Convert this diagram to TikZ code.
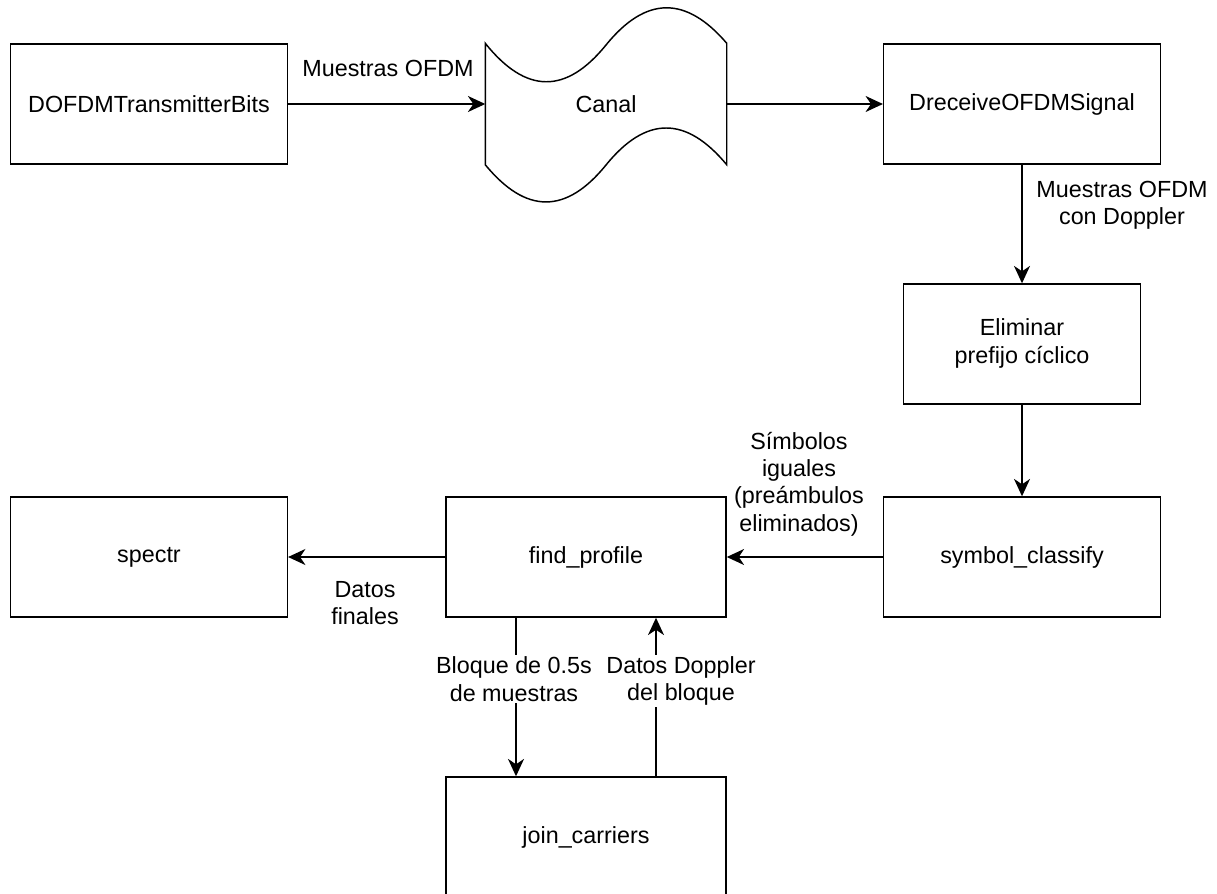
\documentclass[tikz,border=0pt]{standalone}
\usepackage{fontspec}
\setmainfont{Liberation Sans}
\usetikzlibrary{arrows.meta,positioning}

\begin{document}
\begin{tikzpicture}[x=0.75pt,y=-0.75pt,
        block/.style={draw=black,line width=1.1pt,fill=white,
                     minimum width=207.5pt,minimum height=90pt,
                     font=\fontsize{17.5}{21}\selectfont,inner sep=0pt},
        lbl/.style={font=\fontsize{17.5}{20.5}\selectfont,align=center,
                    inner sep=1pt},
        flow/.style={-{Stealth[length=13pt,width=12pt,inset=4pt]},line width=1.1pt}]
        \useasboundingbox (0,0) rectangle (1217,893);
        % boxes
        \node[block] (tx) at (149,104) {DOFDMTransmitterBits};
        \node[block,draw=none,fill=none,minimum width=180pt] (canal) at (606,104) {Canal};
        \node[block] (rx) at (1022,104) {DreceiveOFDMSignal};
        \node[block,minimum width=178pt] (cp) at (1022,344)
              {\begin{tabular}{c}Eliminar\\prefijo cíclico\end{tabular}};
        \node[block] (clsf) at (1022,557) {symbol\_classify};
        \node[block,minimum width=210pt] (prof) at (586,557) {find\_profile};
        \node[block] (spec) at (149,557) {spectr};
        \node[block,minimum width=210pt] (join) at (586,837) {join\_carriers};
        % tape outline of the channel
        \draw[line width=1.1pt] (canal.north west)
              .. controls (526,94.3) and (566,94.3) .. (606,45)
              .. controls (646,-4.3) and (686,-4.3) .. (canal.north east)
              -- (canal.south east)
              .. controls (686,115.7) and (646,115.7) .. (606,165)
              .. controls (566,214.3) and (526,214.3) .. (canal.south west)
              -- cycle;
        % connectors
        \draw[flow] (tx) -- (canal);
        \draw[flow] (canal) -- (rx);
        \draw[flow] (rx) -- (cp);
        \draw[flow] (cp) -- (clsf);
        \draw[flow] (clsf) -- (prof);
        \draw[flow] (prof) -- (spec);
        \draw[flow] (prof.south -| 516,0) -- (join.north -| 516,0);
        \draw[flow] (join.north -| 656,0) -- (prof.south -| 656,0);
        % labels
        \node[lbl] (l1) at (388,68) {Muestras OFDM};
        \node[lbl] (l2) at (1122,205) {Muestras OFDM\\con Doppler};
        \node[lbl] (l3) at (799,484) {Símbolos\\iguales\\(preámbulos\\eliminados)};
        \node[lbl] (l4) at (365,603) {Datos\\finales};
        \node[lbl,fill=white] (l5) at (514,679) {Bloque de 0.5s\\de muestras};
        \node[lbl,fill=white] (l6) at (681,681) {Datos Doppler\\del bloque};
\end{tikzpicture}
\end{document}
